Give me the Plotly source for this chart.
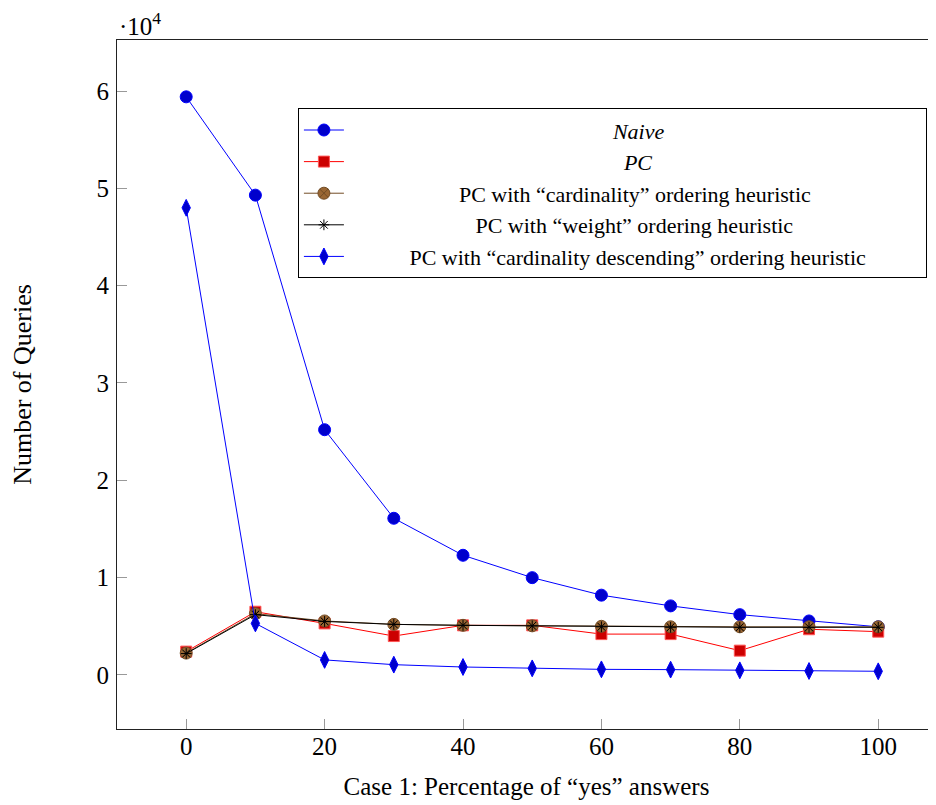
import plotly.graph_objects as go

x_vals = [0, 10, 20, 30, 40, 50, 60, 70, 80, 90, 100]
naive = [59400, 49300, 25200, 16100, 12300, 10000, 8200, 7100, 6200, 5550, 4950]
pc = [2400, 6500, 5300, 4000, 5100, 5100, 4200, 4200, 2500, 4700, 4450]
pc_card = [2250, 6300, 5550, 5200, 5100, 5050, 5000, 4950, 4950, 4950, 4950]
pc_weight = [2200, 6200, 5500, 5200, 5100, 5050, 4950, 4900, 4900, 4900, 4900]
pc_card_desc = [48000, 5300, 1550, 1060, 820, 680, 580, 550, 480, 410, 380]

y_tickvals = [0, 10000, 20000, 30000, 40000, 50000, 60000]
y_ticktext = ["0", "1", "2", "3", "4", "5", "6"]
x_tickvals = [0, 20, 40, 60, 80, 100]

NB = "\u00a0"
names = [NB * 48 + "<i>Naive</i>",
         NB * 50 + "<i>PC</i>",
         NB * 20 + "PC with “cardinality” ordering heuristic",
         NB * 23 + "PC with “weight” ordering heuristic",
         NB * 11 + "PC with “cardinality descending” ordering heuristic" + NB * 10]

FONT = "Liberation Serif"
TICK_SIZE = 25
TITLE_SIZE = 25
LEG_SIZE = 22

fig = go.Figure()
fig.add_trace(go.Scatter(x=x_vals, y=naive, name=names[0], mode="lines+markers",
                         line=dict(color="#0000FF", width=1),
                         marker=dict(symbol="circle", size=12, color="#0000CC",
                                     line=dict(color="#0000FF", width=1))))
fig.add_trace(go.Scatter(x=x_vals, y=pc, name=names[1], mode="lines+markers",
                         line=dict(color="#FF0000", width=1),
                         marker=dict(symbol="square", size=11, color="#CC0000",
                                     line=dict(color="#FF5555", width=1))))
fig.add_trace(go.Scatter(x=x_vals, y=pc_card, name=names[2], mode="lines+markers",
                         line=dict(color="#734D26", width=1),
                         marker=dict(symbol="circle-x", size=12, color="#996633",
                                     line=dict(color="#734D26", width=1))))
fig.add_trace(go.Scatter(x=x_vals, y=pc_weight, name=names[3], mode="lines+markers",
                         line=dict(color="#000000", width=1),
                         marker=dict(symbol="asterisk-open", size=9, color="#000000",
                                     line=dict(color="#000000", width=1))))
fig.add_trace(go.Scatter(x=x_vals, y=pc_card_desc, name=names[4], mode="lines+markers",
                         line=dict(color="#0000FF", width=1),
                         marker=dict(symbol="diamond-tall", size=12, color="#0000CC",
                                     line=dict(color="#0000FF", width=1))))

axis_common = dict(showline=True, linecolor="#222222", linewidth=1,
                   ticks="inside", tickcolor="#999999", ticklen=10, tickwidth=1,
                   showgrid=False, zeroline=False,
                   tickfont=dict(family=FONT, size=TICK_SIZE, color="black"))

fig.update_xaxes(range=[-10, 108.35], tickvals=x_tickvals, ticklabelstandoff=-5, mirror=True,
                 title=dict(text="Case 1: Percentage of “yes” answers",
                            font=dict(family=FONT, size=TITLE_SIZE, color="black"), standoff=18),
                 **axis_common)
fig.update_yaxes(range=[-5550, 65240], tickvals=y_tickvals, ticktext=y_ticktext,
                 ticklabelstandoff=2, mirror=False,
                 title=dict(text="Number of Queries",
                            font=dict(family=FONT, size=TITLE_SIZE + 1, color="black"), standoff=59),
                 **axis_common)

fig.add_annotation(text="·10<sup>4</sup>", xref="paper", yref="paper", x=0, y=1,
                   xanchor="left", yanchor="bottom", showarrow=False,
                   font=dict(family=FONT, size=TICK_SIZE, color="black"), yshift=-2)

fig.update_layout(
    width=928, height=797,
    margin=dict(l=109, r=0, t=32, b=76),
    paper_bgcolor="white", plot_bgcolor="white",
    showlegend=True,
    legend=dict(x=0.2209, y=0.901, xanchor="left", yanchor="top",
                bordercolor="black", borderwidth=1, bgcolor="white",
                font=dict(family=FONT, size=LEG_SIZE, color="black"),
                itemwidth=40, tracegroupgap=0),
)

fig.write_html("out.html")
